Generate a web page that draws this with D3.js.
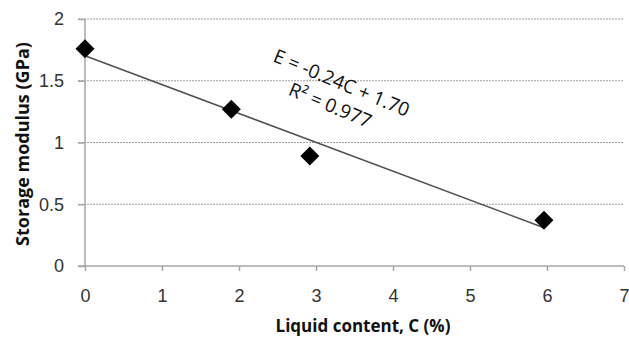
<!DOCTYPE html>
<html>
<head>
<meta charset="utf-8">
<script src="https://cdn.jsdelivr.net/npm/d3@7"></script>
<style>
  body { margin: 0; background: #fff; }
  svg { display: block; font-family: "Open Sans", sans-serif; }
</style>
</head>
<body>
<svg id="canvas"></svg>
<script>
// liquid content C (%) and storage modulus E (GPa)
const liquid = [0, 1.9, 2.92, 5.96];
const modulus = [1.76, 1.27, 0.89, 0.37];
const xTicks = [0, 1, 2, 3, 4, 5, 6, 7];
const yTicks = [0, 0.5, 1, 1.5, 2];
const yTickLabels = ['0', '0.5', '1', '1.5', '2'];
const eqLines = ['E = -0.24C + 1.70', 'R\u00B2 = 0.977'];

const width = 629;
const height = 340;
const margin = { top: 19, right: 5, bottom: 74, left: 85 };

const svg = d3.select('#canvas').attr('width', width).attr('height', height);

const x = d3.scaleLinear().domain([0, 7]).range([margin.left, width - margin.right]);
const y = d3.scaleLinear().domain([0, 2]).range([height - margin.bottom, margin.top]);

// horizontal dashed grid
svg.append('g')
  .selectAll('line')
  .data(yTicks.filter(d => d > 0))
  .join('line')
  .attr('x1', x(0) - 7)
  .attr('x2', x(7))
  .attr('y1', d => y(d))
  .attr('y2', d => y(d))
  .attr('stroke', '#a0a0a0')
  .attr('stroke-width', 1.2)
  .attr('stroke-dasharray', '2,1');

// y axis
const yAxis = svg.append('g')
  .attr('transform', `translate(${x(0)},0)`)
  .call(d3.axisLeft(y).tickValues(yTicks).tickFormat((d, i) => yTickLabels[i]).tickSize(7).tickPadding(14));
yAxis.select('.domain').attr('stroke', '#a6a6a6').attr('stroke-width', 1.5).attr('d', `M0,${y(0)}V${y(2)}`);
yAxis.selectAll('.tick line').attr('stroke', '#a6a6a6').attr('stroke-width', 1.5);
yAxis.selectAll('.tick text').attr('fill', '#333').style('font-size', '18px');

// x axis
const xAxis = svg.append('g')
  .attr('transform', `translate(0,${y(0)})`)
  .call(d3.axisBottom(x).tickValues(xTicks).tickFormat(d3.format('d')).tickSize(5).tickPadding(18));
xAxis.select('.domain').attr('stroke', '#a6a6a6').attr('stroke-width', 1.5).attr('d', `M${x(0) - 7},0H${x(7)}`);
xAxis.selectAll('.tick line').attr('stroke', '#a6a6a6').attr('stroke-width', 1.5);
xAxis.selectAll('.tick text').attr('fill', '#333').style('font-size', '18px');

// linear fit
const mx = d3.mean(liquid), my = d3.mean(modulus);
const sxy = d3.sum(liquid, (c, i) => (c - mx) * (modulus[i] - my));
const sxx = d3.sum(liquid, c => (c - mx) * (c - mx));
const slope = sxy / sxx;
const intercept = my - slope * mx;
const ends = d3.extent(liquid);

svg.append('line')
  .attr('x1', x(ends[0]))
  .attr('y1', y(intercept + slope * ends[0]))
  .attr('x2', x(ends[1]))
  .attr('y2', y(intercept + slope * ends[1]))
  .attr('stroke', '#505050')
  .attr('stroke-width', 1.6);

// diamond markers
svg.append('g')
  .selectAll('path')
  .data(liquid.map((c, i) => ({ c, e: modulus[i] })))
  .join('path')
  .attr('transform', d => `translate(${x(d.c)},${y(d.e)})`)
  .attr('d', 'M0,-9.5L9.5,0L0,9.5L-9.5,0Z')
  .attr('fill', '#000');

// equation label
const eq = svg.append('g').attr('transform', 'translate(339,89) rotate(22.6)');
eq.append('text')
  .attr('text-anchor', 'middle')
  .attr('fill', '#111')
  .style('font-size', '19px')
  .text(eqLines[0]);
eq.append('text')
  .attr('text-anchor', 'middle')
  .attr('x', -2)
  .attr('y', 25)
  .attr('fill', '#111')
  .style('font-size', '19px')
  .text(eqLines[1]);

// axis titles
svg.append('text')
  .attr('x', 363)
  .attr('y', 332)
  .attr('text-anchor', 'middle')
  .style('font-size', '17px')
  .style('font-weight', 'bold')
  .attr('fill', '#111')
  .text('Liquid content, C (%)');

svg.append('text')
  .attr('transform', 'translate(29,144) rotate(-90)')
  .attr('text-anchor', 'middle')
  .style('font-size', '18px')
  .style('font-weight', 'bold')
  .attr('fill', '#111')
  .text('Storage modulus (GPa)');
</script>
</body>
</html>
